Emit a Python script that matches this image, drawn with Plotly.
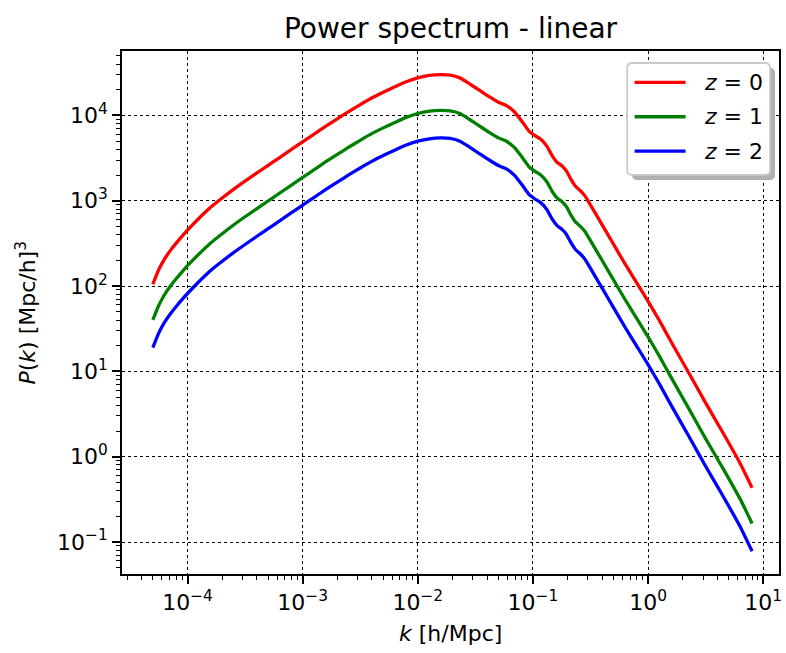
import plotly.graph_objects as go

# Wavenumbers [h/Mpc]
k = [5.0e-5, 5.62e-5, 6.31e-5, 7.08e-5, 7.94e-5, 8.91e-5, 1.0e-4, 1.26e-4, 1.58e-4,
     2.0e-4, 2.51e-4, 3.16e-4, 3.98e-4, 5.01e-4, 6.31e-4, 7.94e-4, 1.0e-3, 1.26e-3,
     1.58e-3, 2.0e-3, 2.51e-3, 3.16e-3, 3.98e-3, 5.01e-3, 6.31e-3, 7.94e-3, 0.01,
     0.0126, 0.0158, 0.0191, 0.0232, 0.0282, 0.0347, 0.0417, 0.0501, 0.0589, 0.0692,
     0.0813, 0.0933, 0.105, 0.117, 0.132, 0.148, 0.162, 0.178, 0.195, 0.214, 0.234,
     0.257, 0.282, 0.316, 0.398, 0.501, 0.631, 0.794, 1.0, 1.26, 1.58, 2.24, 3.16,
     4.47, 6.31, 8.0]

# Linear matter power spectrum P(k) [(Mpc/h)^3] at three redshifts
pk_z0 = [105, 155, 207, 260, 316, 380, 452, 624, 832, 1076, 1361, 1698, 2104, 2600,
         3206, 3972, 4909, 6053, 7447, 9120, 11092, 13366, 15996, 18707, 21627, 24831,
         27542, 29376, 30061, 29648, 27542, 23442, 19498, 16596, 14289, 13032, 10965,
         8318, 6457, 5754, 5248, 4365, 3311, 2818, 2570, 2239, 1778, 1479, 1318, 1148,
         891, 525, 309, 182, 110, 66.1, 38.9, 22.4, 9.77, 4.27, 1.91, 0.832, 0.431]
pk_z1 = [40.1, 59.2, 79.1, 99.3, 121, 145, 173, 238, 318, 411, 520, 649, 804, 993,
         1225, 1517, 1875, 2312, 2845, 3484, 4237, 5106, 6110, 7146, 8262, 9485,
         10521, 11222, 11483, 11326, 10521, 8955, 7448, 6340, 5458, 4978, 4189, 3177,
         2467, 2198, 2005, 1667, 1265, 1076, 982, 855, 679, 565, 503, 439, 340, 201,
         118, 69.5, 42.0, 25.3, 14.9, 8.56, 3.73, 1.63, 0.730, 0.318, 0.165]
pk_z2 = [19.0, 28.1, 37.5, 47.1, 57.2, 68.8, 81.8, 113, 151, 195, 246, 307, 381, 471,
         580, 719, 889, 1096, 1348, 1651, 2008, 2419, 2895, 3386, 3915, 4494, 4985,
         5317, 5441, 5366, 4985, 4243, 3529, 3004, 2586, 2359, 1985, 1506, 1169, 1041,
         950, 790, 599, 510, 465, 405, 322, 268, 239, 208, 161, 95.0, 55.9, 32.9,
         19.9, 12.0, 7.04, 4.05, 1.77, 0.773, 0.346, 0.151, 0.078]

series_labels = ["<i>z</i> = 0", "<i>z</i> = 1", "<i>z</i> = 2"]
series_colors = ["#ff0000", "#008000", "#0000ff"]

x_tick_exponents = [-4, -3, -2, -1, 0, 1]
y_tick_exponents = [-1, 0, 1, 2, 3, 4]

W, H = 786, 653
ML, MR, MT, MB = 122, 6.5, 50.5, 79
PW, PH = W - ML - MR, H - MT - MB
FONT = "DejaVu Sans"


def px_x(px):
    return (px - ML) / PW


def px_y(py):
    return (H - MB - py) / PH


def tick_text(e):
    return "10<sup>" + (str(e) if e >= 0 else "\u2212" + str(-e)) + "</sup>"


def minor_vals(e_lo, e_hi):
    return [m * 10.0 ** e for e in range(e_lo, e_hi + 1) for m in range(2, 10)]


fig = go.Figure()
for pk, name, color in zip([pk_z0, pk_z1, pk_z2], series_labels, series_colors):
    fig.add_trace(go.Scatter(x=k, y=pk, mode="lines", name=name,
                             line=dict(color=color, width=3.3, shape="spline",
                                       smoothing=0.5),
                             showlegend=False))

axis_common = dict(
    type="log", showline=True, linecolor="black", linewidth=1.8, mirror=True,
    ticks="outside", ticklen=8, tickwidth=1.8, tickcolor="black",
    showgrid=True, gridcolor="black", gridwidth=0.9, griddash="dot",
    zeroline=False, tickfont=dict(family=FONT, size=22, color="black"),
    tickmode="array",
)

fig.update_xaxes(
    **axis_common, range=[-4.569, 1.137],
    tickvals=[10.0 ** e for e in x_tick_exponents],
    ticktext=[tick_text(e) for e in x_tick_exponents],
    minor=dict(ticks="outside", ticklen=4.5, tickwidth=1.4, tickcolor="black",
               showgrid=False, tickmode="array", tickvals=minor_vals(-5, 1)),
)
fig.update_yaxes(
    **axis_common, range=[-1.375, 4.755],
    tickvals=[10.0 ** e for e in y_tick_exponents],
    ticktext=[tick_text(e) for e in y_tick_exponents],
    minor=dict(ticks="outside", ticklen=4.5, tickwidth=1.4, tickcolor="black",
               showgrid=False, tickmode="array", tickvals=minor_vals(-2, 4)),
)

# Legend box: shadow, rounded white frame, line samples and labels
box_l, box_t, box_r, box_b, rad = 627.5, 62.5, 770.5, 174.5, 5
shadow_dx = 5


def rounded_path(l, t, r, b, rr):
    def P(x, y):
        return f"{px_x(x):.5f},{px_y(y):.5f}"
    pts = ["M" + P(l + rr, t),
           "L" + P(r - rr, t),
           "Q" + P(r, t) + " " + P(r, t + rr),
           "L" + P(r, b - rr),
           "Q" + P(r, b) + " " + P(r - rr, b),
           "L" + P(l + rr, b),
           "Q" + P(l, b) + " " + P(l, b - rr),
           "L" + P(l, t + rr),
           "Q" + P(l, t) + " " + P(l + rr, t)]
    return " ".join(pts) + " Z"


shapes = [
    dict(type="path", xref="paper", yref="paper", layer="above",
         path=rounded_path(box_l + shadow_dx, box_t + shadow_dx,
                           box_r + shadow_dx, box_b + shadow_dx, rad),
         fillcolor="#b0b0b0", line=dict(width=0)),
    dict(type="path", xref="paper", yref="paper", layer="above",
         path=rounded_path(box_l, box_t, box_r, box_b, rad),
         fillcolor="#ffffff", line=dict(color="#cccccc", width=1.8)),
]
annotations = []
row_y = [82, 116.3, 150.7]
for yy, name, color in zip(row_y, series_labels, series_colors):
    shapes.append(dict(type="line", xref="paper", yref="paper", layer="above",
                       x0=px_x(635), x1=px_x(686), y0=px_y(yy), y1=px_y(yy),
                       line=dict(color=color, width=3.3)))
    annotations.append(dict(text=name, xref="paper", yref="paper",
                            x=px_x(702), y=px_y(yy), xanchor="left", yanchor="middle",
                            showarrow=False,
                            font=dict(family=FONT, size=22, color="black")))

# Axis titles
annotations.append(dict(text="<i>k</i> [h/Mpc]", xref="paper", yref="paper",
                        x=0.5, y=px_y(634), xanchor="center", yanchor="middle",
                        showarrow=False, font=dict(family=FONT, size=22, color="black")))
annotations.append(dict(text="<i>P</i>(<i>k</i>) [Mpc/h]<sup>3</sup>", xref="paper",
                        yref="paper", x=px_x(25), y=0.5, xanchor="center",
                        yanchor="middle", textangle=-90, showarrow=False,
                        font=dict(family=FONT, size=22, color="black")))

fig.update_layout(
    width=W, height=H,
    margin=dict(l=ML, r=MR, t=MT, b=MB, autoexpand=False),
    paper_bgcolor="white", plot_bgcolor="white",
    title=dict(text="Power spectrum - linear", x=0.5, xref="paper",
               y=1 - 28 / H, yref="container", xanchor="center", yanchor="middle",
               font=dict(family=FONT, size=28, color="black")),
    shapes=shapes, annotations=annotations,
    font=dict(family=FONT, color="black"),
)

fig.write_html("out.html")
